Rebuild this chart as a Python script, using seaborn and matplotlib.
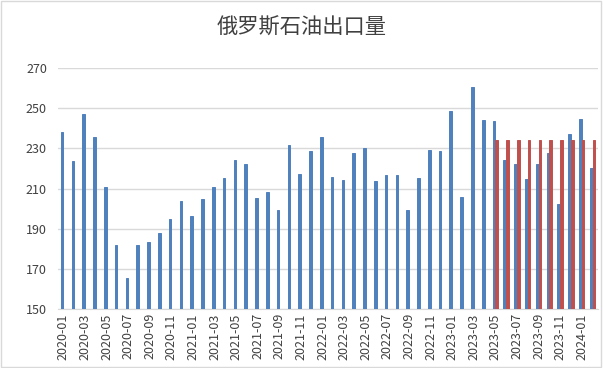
import pandas as pd
import numpy as np
import seaborn as sns
import matplotlib.pyplot as plt
from matplotlib.patches import Rectangle

# %% Data
months = [f"{y}-{m:02d}" for y in range(2020, 2025) for m in range(1, 13)][:50]
exports = [238.2, 223.7, 247.0, 235.8, 210.7, 182.0, 165.3, 182.0, 183.2, 187.8,
           194.8, 203.7, 196.5, 204.8, 210.7, 215.4, 224.3, 222.2, 205.3, 208.3,
           199.2, 231.8, 217.3, 228.8, 235.8, 215.8, 214.3, 227.8, 230.3, 214.0,
           216.5, 216.8, 199.3, 215.5, 229.3, 228.7, 248.8, 206.0, 260.6, 243.9,
           243.6, 224.2, 222.2, 215.0, 222.2, 227.9, 202.5, 237.4, 244.4, 220.4]
reference = [np.nan] * 40 + [234.0] * 10
series_names = ["出口量", "参考"]

df = pd.DataFrame({"月份": months * 2,
                   "数值": exports + reference,
                   "系列": [series_names[0]] * 50 + [series_names[1]] * 50})

# %% Plot
sns.set_style("white")
plt.rcParams['font.family'] = ['Noto Sans CJK SC', 'DejaVu Sans']

fig = plt.figure(figsize=(6.03, 3.68), dpi=100)
ax = fig.add_axes([0.0962, 0.1603, 0.8955, 0.6547])
sns.barplot(data=df, x="月份", y="数值", hue="系列", order=months,
            hue_order=series_names, palette=["#4F81BD", "#C0504D"],
            width=0.5, dodge=True, saturation=1, legend=False, ax=ax,
            zorder=3)
# make the thin bars render solid
for p in ax.patches:
    p.set_edgecolor(p.get_facecolor())
    p.set_linewidth(0.7)

ax.set_ylim(150, 270)
ax.set_yticks(range(150, 271, 20))
ax.set_xlim(-0.5, 49.5)
ax.set_xticks(range(0, 50, 2))
ax.set_xticklabels(months[::2], rotation=90, fontsize=9, color="#404040")
ax.tick_params(axis="y", labelsize=9, labelcolor="#404040", length=0, pad=8)
ax.tick_params(axis="x", length=0, pad=3)
ax.set_xlabel("")
ax.set_ylabel("")
ax.grid(axis="y", color="#D9D9D9", linewidth=1, zorder=0)
for s in ["top", "right", "left"]:
    ax.spines[s].set_visible(False)
ax.spines["bottom"].set_color("#D9D9D9")

fig.text(0.5, 0.925, "俄罗斯石油出口量", ha="center", va="center",
         fontsize=15.3, color="#404040")
fig.patches.append(Rectangle((0.002, 0.004), 0.995, 0.992, transform=fig.transFigure,
                             fill=False, edgecolor="#D9D9D9", linewidth=1))

plt.savefig("out.png", dpi=100)
plt.close()
